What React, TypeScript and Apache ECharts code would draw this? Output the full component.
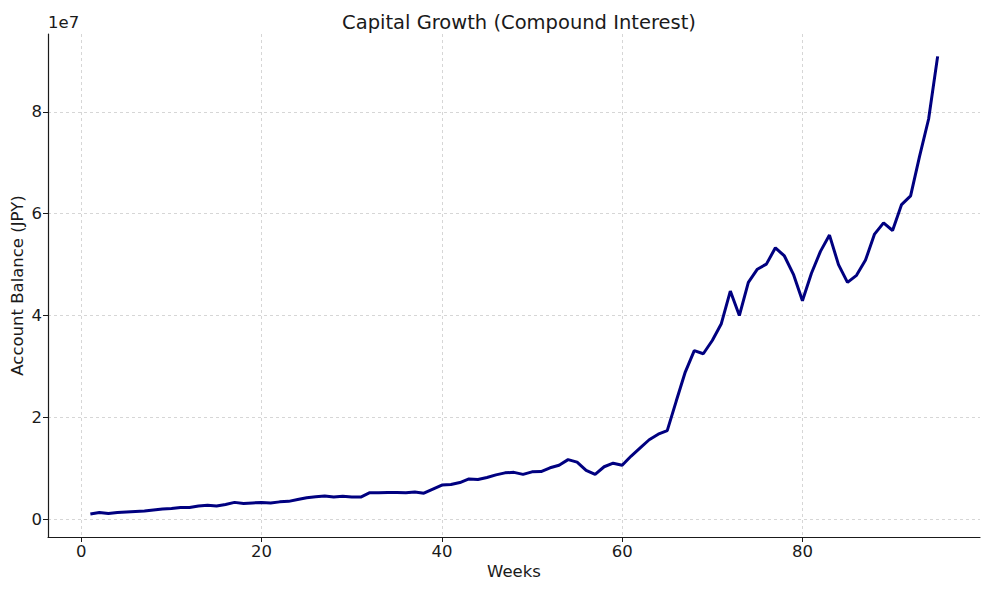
import React, { useEffect, useRef } from "react";
import * as echarts from "echarts";

const weeks: number[] = Array.from({ length: 95 }, (_, i) => i + 1);
// Account balance in millions of JPY
const balanceMillions: number[] = [
  1.0, 1.3, 1.1, 1.3, 1.4, 1.5, 1.6, 1.8, 2.0, 2.1,
  2.3, 2.3, 2.6, 2.75, 2.6, 2.9, 3.3, 3.1, 3.2, 3.3,
  3.2, 3.4, 3.5, 3.85, 4.2, 4.4, 4.55, 4.35, 4.5, 4.35,
  4.35, 5.2, 5.2, 5.25, 5.25, 5.2, 5.35, 5.1, 5.9, 6.7,
  6.8, 7.2, 7.9, 7.8, 8.2, 8.7, 9.1, 9.2, 8.8, 9.3,
  9.35, 10.1, 10.6, 11.7, 11.2, 9.6, 8.8, 10.3, 11.0, 10.6,
  12.4, 14.0, 15.6, 16.7, 17.4, 23.2, 28.9, 33.1, 32.5, 35.1,
  38.4, 44.8, 40.0, 46.5, 49.1, 50.1, 53.3, 51.7, 48.1, 42.9,
  48.3, 52.6, 55.8, 50.0, 46.5, 47.9, 50.9, 56.0, 58.2, 56.7,
  61.8, 63.5, 71.3, 78.6, 90.9,
];
const xTicks: number[] = [0, 20, 40, 60, 80];
const yTicks: number[] = [0, 2e7, 4e7, 6e7, 8e7];

const FONT = "DejaVu Sans";
const TXT = "#1a1a1a";

export default function App() {
  const ref = useRef<HTMLDivElement>(null);
  useEffect(() => {
    if (!ref.current) return;
    const chart = echarts.init(ref.current, undefined, { renderer: "svg" });
    const data = weeks.map((w, i) => [w, balanceMillions[i] * 1e6]);
    chart.setOption({
      animation: false,
      backgroundColor: "#ffffff",
      textStyle: { fontFamily: FONT },
      title: {
        text: "Capital Growth (Compound Interest)",
        left: 514,
        textAlign: "center",
        top: 7,
        textStyle: { fontFamily: FONT, fontSize: 19.5, fontWeight: "normal", color: TXT },
      },
      graphic: [
        {
          type: "text",
          left: 48,
          top: 14,
          style: { text: "1e7", fontFamily: FONT, fontSize: 16.5, fill: TXT },
        },
      ],
      grid: { left: 48, right: 10, top: 34, bottom: 53, containLabel: false, outerBoundsMode: "none" },
      xAxis: {
        type: "value",
        min: -3.7,
        max: 99.7,
        name: "Weeks",
        nameLocation: "middle",
        nameGap: 26,
        nameMoveOverlap: false,
        nameTextStyle: { fontFamily: FONT, fontSize: 16.5, color: TXT },
        axisLine: { show: true, onZero: false, lineStyle: { color: "#1a1a1a", width: 1.2 } },
        axisTick: { show: true, length: 5, customValues: xTicks, lineStyle: { color: "#1a1a1a" } },
        axisLabel: {
          customValues: xTicks,
          fontFamily: FONT,
          fontSize: 16.5,
          color: TXT,
          margin: 6,
        },
        splitLine: { show: true, lineStyle: { color: "#cccccc", type: [3, 3], width: 0.8 } },
      },
      yAxis: {
        type: "value",
        min: -3.5e6,
        max: 95.3e6,
        name: "Account Balance (JPY)",
        nameLocation: "middle",
        nameGap: 22,
        nameMoveOverlap: false,
        nameRotate: 90,
        nameTextStyle: { fontFamily: FONT, fontSize: 16.5, color: TXT },
        axisLine: { show: true, onZero: false, lineStyle: { color: "#1a1a1a", width: 1.2 } },
        axisTick: { show: true, length: 5, customValues: yTicks, lineStyle: { color: "#1a1a1a" } },
        axisLabel: {
          customValues: yTicks,
          fontFamily: FONT,
          fontSize: 16.5,
          color: TXT,
          margin: 6,
          formatter: (v: number) => String(Math.round(v / 1e7)),
        },
        splitLine: { show: true, lineStyle: { color: "#cccccc", type: [3, 3], width: 0.8 } },
      },
      series: [
        {
          type: "line",
          data,
          showSymbol: false,
          symbol: "none",
          lineStyle: { color: "#000080", width: 3 },
          itemStyle: { color: "#000080" },
        },
      ],
    });
    return () => chart.dispose();
  }, []);
  return <div ref={ref} style={{ width: 990, height: 590, position: "absolute", left: 0, top: 0 }} />;
}
